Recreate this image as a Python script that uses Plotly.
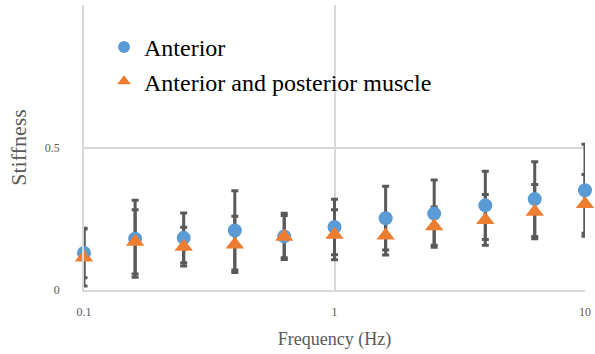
import plotly.graph_objects as go

# Frequencies (Hz), log-spaced
freq = [0.1, 0.16, 0.25, 0.4, 0.63, 1, 1.6, 2.5, 4, 6.3, 10]

# Anterior
anterior = [0.130, 0.180, 0.183, 0.209, 0.188, 0.221, 0.252, 0.268, 0.297, 0.319, 0.350]
anterior_err = [0.087, 0.135, 0.087, 0.139, 0.081, 0.097, 0.112, 0.118, 0.120, 0.131, 0.161]

# Second condition
second = [0.114, 0.169, 0.152, 0.160, 0.187, 0.194, 0.191, 0.224, 0.246, 0.275, 0.302]
second_err = [0.100, 0.113, 0.068, 0.099, 0.074, 0.088, 0.068, 0.067, 0.089, 0.095, 0.103]

names = ["Anterior", "Anterior and posterior muscle"]
y_ticks = [0, 0.5, 1.0]
y_ticktext = ["0", "0.5", ""]
x_ticks = [0.1, 1, 10]
x_ticktext = ["0.1", "1", "10"]

BLUE = "#5B9BD5"
ORANGE = "#ED7D31"
GREY = "#595959"
FONT = "Liberation Serif"

fig = go.Figure()

# error bars first so every marker sits on top of them
for vals, errs in ((anterior, anterior_err), (second, second_err)):
    fig.add_trace(go.Scatter(
        x=freq, y=vals, mode="markers",
        marker=dict(size=1, opacity=0),
        error_y=dict(type="data", array=errs, visible=True,
                     color=GREY, thickness=3, width=3.5),
        showlegend=False, hoverinfo="skip", cliponaxis=False,
    ))

fig.add_trace(go.Scatter(
    x=freq, y=anterior, mode="markers", name=names[0],
    marker=dict(symbol="circle", size=14, color=BLUE),
    cliponaxis=False,
))
fig.add_trace(go.Scatter(
    x=freq, y=second, mode="markers", name=names[1],
    marker=dict(symbol="triangle-up", size=16, color=ORANGE),
    cliponaxis=False,
))

fig.update_layout(
    width=595, height=354,
    margin=dict(l=84, r=10, t=5, b=64),
    paper_bgcolor="white", plot_bgcolor="white",
    font=dict(family=FONT, color="#595959"),
    legend=dict(
        x=0.04, y=0.93, xanchor="left", yanchor="top",
        font=dict(size=24, color="#000000", family="Liberation Serif"),
        bgcolor="rgba(0,0,0,0)", itemsizing="constant",
        tracegroupgap=4,
    ),
)

fig.update_xaxes(
    type="log", range=[-1, 1],
    tickvals=x_ticks, ticktext=x_ticktext,
    showgrid=True, gridcolor="#d9d9d9", gridwidth=1.5,
    showline=True, linecolor="#d9d9d9", linewidth=1.5,
    zeroline=False, ticks="", ticklabelstandoff=10,
    tickfont=dict(size=12, family=FONT, color="#595959"),
    title=dict(text="Frequency (Hz)", font=dict(size=18, family=FONT, color="#595959"),
               standoff=14),
)
fig.update_yaxes(
    range=[0, 1.0],
    tickvals=y_ticks, ticktext=y_ticktext,
    showgrid=True, gridcolor="#d9d9d9", gridwidth=1.5,
    showline=True, linecolor="#d9d9d9", linewidth=1.5,
    zeroline=False, ticks="", ticklabelstandoff=20,
    tickfont=dict(size=12, family=FONT, color="#595959"),
    title=dict(text="Stiffness", font=dict(size=22, family=FONT, color="#595959"),
               standoff=12),
)

fig.write_html("out.html")
